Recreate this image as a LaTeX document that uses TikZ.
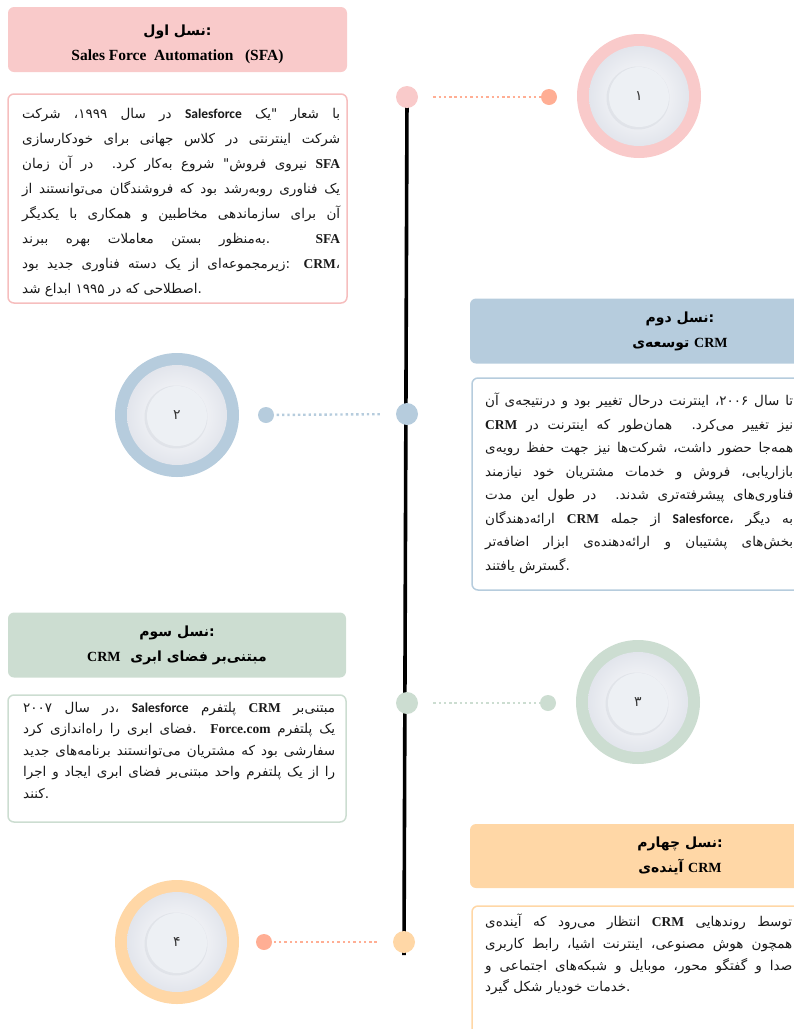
\documentclass[tikz,border=0pt]{standalone}
\usepackage{fontspec}
\setmainfont{Liberation Serif}
\newfontfamily\arabicfont[Script=Arabic]{DejaVu Sans}
\newfontfamily\calfont{Carlito}
\TeXXeTstate=1
\usetikzlibrary{calc,positioning,backgrounds}
\definecolor{pinkA}{HTML}{F9CACA}
\definecolor{pinkB}{HTML}{F6BEBE}
\definecolor{salmon}{HTML}{FFAE94}
\definecolor{blueA}{HTML}{B6CCDD}
\definecolor{greenA}{HTML}{CCDDD1}
\definecolor{peachA}{HTML}{FFD7A6}
\definecolor{plateedge}{HTML}{E2E5EC}
\definecolor{plateshadow}{HTML}{D3D7DF}
\definecolor{platedisk}{HTML}{EDF0F4}
\newcommand\fa[1]{\leavevmode\beginR #1\endR}
\newcommand\zk{\kern0pt\relax}
\newcommand\enw[1]{{\rmfamily\bfseries #1}}
\newcommand\sfc{{\calfont\bfseries Salesforce}}
\hyphenpenalty=10000
\exhyphenpenalty=10000

\begin{document}
\begin{tikzpicture}[
    x=1pt, y=-1pt,
    titlebox/.style={fill=#1, rounded corners=6pt, minimum height=65pt, align=center, inner sep=0pt, font=\arabicfont\bfseries\fontsize{14}{25}\selectfont},
    bodyframe/.style={draw=#1, rounded corners=6pt, line width=1.5pt, inner sep=0pt},
    bodytext/.style={anchor=north west, inner sep=0pt, align=justify, text=black!90},
    linedot/.style={circle, fill=#1, minimum size=22pt, inner sep=0pt},
    enddot/.style={circle, fill=#1, minimum size=16pt, inner sep=0pt},
    dotline/.style={draw=#1, line width=2.4pt, dash pattern=on 2.4pt off 2.9pt},
    timeline/.style={line width=3.6pt, black},
    plate/.style={circle, fill=#1, minimum size=124pt, inner sep=0pt, text=black!80, font=\arabicfont\fontsize{14}{14}\selectfont,
      path picture={
        \coordinate (pc) at (path picture bounding box.center);
        \shade[inner color=white, outer color=plateedge] (pc) circle (50);
        \fill[plateshadow, opacity=.45] ($(pc)+(-1,2)$) circle (31.5);
        \fill[platedisk] ($(pc)+(0,1)$) circle (30);
      }}
]
\useasboundingbox (0,0) rectangle (794,1029);
\clip (0,0) rectangle (794,1029);
% Generation 1
\node[titlebox=pinkA, minimum width=339pt] (g1) at (177.5,39.5) {\rule{0pt}{20pt}\fa{نسل اول}:\\{\fontsize{15.5}{25}\selectfont\enw{Sales Force\ \ Automation\ \ \ (SFA)}}};
\node[bodyframe=pinkB, minimum width=339pt, minimum height=209pt] (f1) at (177.5,198.5) {};
\node[bodytext, text width=318pt, font=\arabicfont\fontsize{13.5}{25}\selectfont] (t1) at (22,108) {\fa{در سال ۱۹۹۹\zk، شرکت} \sfc{} \fa{با شعار "\zk یک\linebreak شرکت اینترنتی در کلاس جهانی برای خودکارسازی\linebreak نیروی فروش\zk" شروع به‌کار کرد\zk. در آن زمان} \enw{SFA}\linebreak \fa{یک فناوری روبه‌رشد بود که فروشندگان می‌توانستند از\linebreak آن برای سازماندهی مخاطبین و همکاری با یکدیگر\linebreak به‌منظور بستن معاملات بهره ببرند}. \enw{SFA}\linebreak \fa{زیرمجموعه‌ای از یک دسته فناوری جدید بود}: \enw{CRM}،\linebreak \fa{اصطلاحی که در ۱۹۹۵ ابداع شد}.};
% Generation 2
\node[titlebox=blueA, minimum width=420pt] (g2) at (680,331) {\fa{نسل دوم}:\\\fa{توسعه‌ی} \enw{CRM}};
\node[bodyframe=blueA, minimum width=418pt, minimum height=212pt] (f2) at (681,484) {};
\node[bodytext, text width=308pt, font=\arabicfont\fontsize{13.5}{23.5}\selectfont] (t2) at (485,393) {\fa{تا سال ۲۰۰۶\zk، اینترنت درحال تغییر بود و درنتیجه‌ی آن}\linebreak \enw{CRM} \fa{نیز تغییر می‌کرد\zk. همان‌طور که اینترنت در\linebreak همه‌جا حضور داشت\zk، شرکت‌ها نیز جهت حفظ رویه‌ی\linebreak بازاریابی\zk، فروش و خدمات مشتریان خود نیازمند\linebreak فناوری‌های پیشرفته‌تری شدند\zk. در طول این مدت\linebreak ارائه‌دهندگان} \enw{CRM} \fa{از جمله} \sfc،\ \fa{به دیگر\linebreak بخش‌های پشتیبان و ارائه‌دهنده‌ی ابزار اضافه‌تر\linebreak گسترش یافتند}.};
% Generation 3
\node[titlebox=greenA, minimum width=338pt] (g3) at (177,645) {\fa{نسل سوم}:\\\enw{CRM}\ \ \fa{مبتنی‌بر فضای ابری}};
\node[bodyframe=greenA, minimum width=338pt, minimum height=127pt] (f3) at (177,758.5) {};
\node[bodytext, text width=312pt, font=\arabicfont\fontsize{13.5}{21.5}\selectfont] (t3) at (23,702) {\fa{در سال ۲۰۰۷}، \sfc{} \fa{پلتفرم} \enw{CRM} \fa{مبتنی‌بر\linebreak فضای ابری را راه‌اندازی کرد}. \enw{Force.com} \fa{یک پلتفرم\linebreak سفارشی بود که مشتریان می‌توانستند برنامه‌های جدید\linebreak را از یک پلتفرم واحد مبتنی‌بر فضای ابری ایجاد و اجرا\linebreak کنند}.};
% Generation 4
\node[titlebox=peachA, minimum width=420pt, minimum height=64pt] (g4) at (680,856) {\fa{نسل چهارم}:\\\fa{آینده‌ی} \enw{CRM}};
\node[bodyframe=peachA, minimum width=418pt, minimum height=140pt] (f4) at (681,976) {};
\node[bodytext, text width=307pt, font=\arabicfont\fontsize{13.5}{21.7}\selectfont] (t4) at (485,914) {\fa{انتظار می‌رود که آینده‌ی} \enw{CRM} \fa{توسط روندهایی\linebreak همچون هوش مصنوعی\zk، اینترنت اشیا\zk، رابط کاربری\linebreak صدا و گفتگو محور\zk، موبایل و شبکه‌های اجتماعی و\linebreak خدمات خودیار شکل گیرد}.};
% Timeline dots
\node[linedot=pinkA] (d1) at (407,97) {};
\node[linedot=blueA] (d2) at (407,414) {};
\node[linedot=greenA] (d3) at (407,703) {};
\node[linedot=peachA] (d4) at (404,942) {};
\begin{scope}[on background layer]
  \draw[timeline] (d1.center) -- ($(d4.south)+(0,2)$);
\end{scope}
% Dotted links and end dots
\node[enddot=salmon] (e1) at (549,97) {};
\node[enddot=blueA] (e2) at (266,415) {};
\node[enddot=greenA] (e3) at (548,703) {};
\node[enddot=salmon] (e4) at (264,942) {};
\draw[dotline=salmon, shorten <=15pt] (d1) -- (e1);
\draw[dotline=blueA, shorten <=16pt] (d2) -- (e2);
\draw[dotline=greenA, shorten <=15pt] (d3) -- (e3);
\draw[dotline=salmon, shorten <=16pt] (d4) -- (e4);
% Numbered plates
\node[plate=pinkA] (c1) at (639,96) {۱};
\node[plate=blueA] (c2) at (177,415) {۲};
\node[plate=greenA] (c3) at (638,702) {۳};
\node[plate=peachA] (c4) at (177,942) {۴};
\end{tikzpicture}
\end{document}
